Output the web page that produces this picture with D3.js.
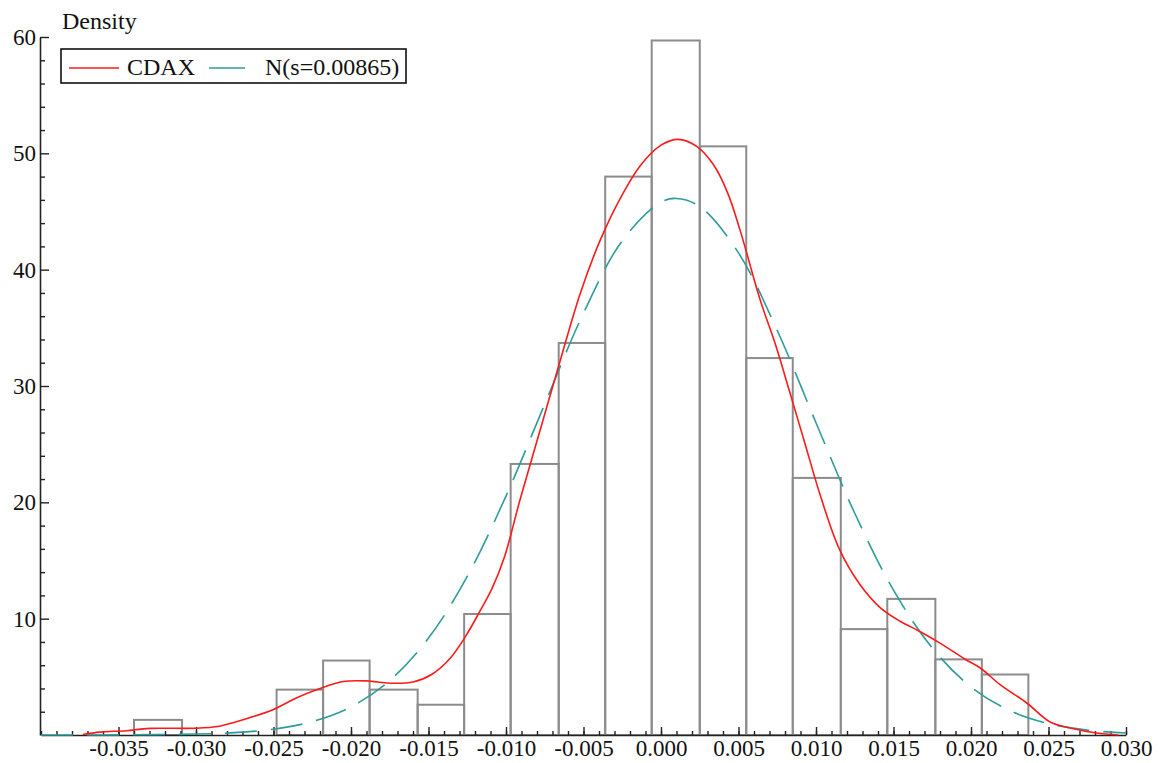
<!DOCTYPE html>
<html>
<head>
<meta charset="utf-8">
<script src="https://cdn.jsdelivr.net/npm/d3@7"></script>
<style>
  body { margin: 0; background: #fff; }
  text { font-family: "Liberation Serif", "Times New Roman", serif; }
</style>
</head>
<body>
<div id="chart"></div>
<script>
// histogram bins (edges) and densities
const binEdges = [-0.0340, -0.0309, -0.0279, -0.0248, -0.0218, -0.0188, -0.0157, -0.0127, -0.0097, -0.0066,
  -0.0036, -0.0006, 0.0025, 0.0055, 0.0085, 0.0116, 0.0146, 0.0177, 0.0207, 0.0237];
const binDensity = [1.3, 0, 0, 3.9, 6.4, 3.9, 2.6, 10.4, 23.3, 33.7, 48.0, 59.7, 50.6, 32.4, 22.1, 9.1, 11.7, 6.5, 5.2];

// kernel density of CDAX (red)
const cdaxX = [-0.0373, -0.0362, -0.0345, -0.0330, -0.0300, -0.0285, -0.0275, -0.0265, -0.0250, -0.0235, -0.0220,
  -0.0205, -0.0190, -0.0175, -0.0160, -0.0148, -0.0136, -0.0126, -0.0117, -0.0109, -0.0101, -0.0091, -0.0078,
  -0.0065, -0.0052, -0.0039, -0.0026, -0.0013, 0.0000, 0.0011, 0.0023, 0.0034, 0.0043, 0.0051, 0.0064, 0.0074,
  0.0083, 0.0093, 0.0103, 0.0115, 0.0128, 0.0141, 0.0154, 0.0167, 0.0180, 0.0197, 0.0206, 0.0219, 0.0236,
  0.0251, 0.0264, 0.0281, 0.0295];
const cdaxY = [0.05, 0.25, 0.37, 0.57, 0.58, 0.75, 1.1, 1.5, 2.2, 3.2, 4.0,
  4.6, 4.65, 4.45, 4.55, 5.2, 6.6, 8.5, 10.6, 12.6, 15.3, 20.2, 26.2,
  32.2, 38.0, 42.6, 46.2, 49.0, 50.7, 51.2, 50.6, 49.0, 46.6, 43.4, 37.4, 33.5,
  29.5, 25.0, 20.5, 16.0, 13.0, 11.0, 9.8, 8.9, 7.9, 6.45, 5.76, 4.3, 2.75,
  1.12, 0.6, 0.17, 0.0];

// normal reference N(s=0.00865) (teal, dashed)
const normX = [-0.0400, -0.0375, -0.0350, -0.0325, -0.0300, -0.0275, -0.0250, -0.0225, -0.0200, -0.0175, -0.0150,
  -0.0125, -0.0100, -0.0075, -0.0050, -0.0025, 0.0000, 0.0010, 0.0025, 0.0050, 0.0075, 0.0100, 0.0125, 0.0150,
  0.0175, 0.0200, 0.0225, 0.0250, 0.0275, 0.0300];
const normY = [0.0, 0.0, 0.01, 0.03, 0.08, 0.2, 0.5, 1.15, 2.42, 4.68, 8.33,
  13.64, 20.54, 28.45, 36.26, 42.49, 45.81, 46.12, 45.43, 41.44, 34.77, 26.84, 19.06, 12.45,
  7.48, 4.13, 2.1, 0.98, 0.42, 0.17];

const xTicks = [-0.035, -0.030, -0.025, -0.020, -0.015, -0.010, -0.005, 0.000, 0.005, 0.010, 0.015, 0.020, 0.025, 0.030];
const yTicks = [10, 20, 30, 40, 50, 60];
const legendLabels = ["CDAX", "N(s=0.00865)"];

const width = 1163, height = 763;
const red = "#ff1a1a", teal = "#2e9c98", barGray = "#8c8c8c";

const svg = d3.select("#chart").append("svg")
  .attr("width", width).attr("height", height);

const x = d3.scaleLinear().domain([-0.040, 0.030]).range([41, 1126]);
const y = d3.scaleLinear().domain([0, 60]).range([735, 37]);

// histogram
const bins = binDensity.map((d, i) => ({ x0: binEdges[i], x1: binEdges[i + 1], v: d })).filter(b => b.v > 0);
svg.append("g").selectAll("rect").data(bins).enter().append("rect")
  .attr("x", d => x(d.x0))
  .attr("y", d => y(d.v))
  .attr("width", d => x(d.x1) - x(d.x0))
  .attr("height", d => y(0) - y(d.v))
  .attr("fill", "none")
  .attr("stroke", barGray)
  .attr("stroke-width", 2);

// axes
svg.append("g").attr("transform", `translate(0,${y(0)})`)
  .call(d3.axisBottom(x).tickValues(xTicks).tickSizeInner(-8).tickSizeOuter(0).tickPadding(5)
    .tickFormat(d => d.toFixed(3)));
svg.append("g").attr("transform", `translate(0,${y(0)})`)
  .call(d3.axisBottom(x).ticks(70).tickSizeInner(-4).tickSizeOuter(0).tickFormat(""))
  .select(".domain").remove();

svg.append("g").attr("transform", `translate(${x(-0.040) - 1},0)`)
  .call(d3.axisLeft(y).tickValues(yTicks).tickSizeInner(-9).tickSizeOuter(0).tickPadding(4));
svg.append("g").attr("transform", `translate(${x(-0.040) - 1},0)`)
  .call(d3.axisLeft(y).tickValues(d3.range(2, 60, 2).filter(v => v % 10 !== 0)).tickSizeInner(-5).tickSizeOuter(0).tickFormat(""))
  .select(".domain").remove();

svg.selectAll(".domain").attr("stroke", "#222").attr("stroke-width", 1.6);
svg.selectAll(".tick line").attr("stroke", "#222").attr("stroke-width", 1.4);
svg.selectAll(".tick text").attr("fill", "#111").style("font-size", "23px")
  .style("font-family", "'Liberation Serif', serif");

// curves
const curveLine = d3.line().x(d => x(d[0])).y(d => y(d[1])).curve(d3.curveCatmullRom.alpha(0.5));
svg.append("path")
  .datum(normX.map((v, i) => [v, normY[i]]))
  .attr("fill", "none")
  .attr("stroke", teal)
  .attr("stroke-width", 1.6)
  .attr("stroke-dasharray", "32,14")
  .attr("d", curveLine);

svg.append("path")
  .datum(cdaxX.map((v, i) => [v, cdaxY[i]]))
  .attr("fill", "none")
  .attr("stroke", red)
  .attr("stroke-width", 1.6)
  .attr("d", curveLine);

// axis title
svg.append("text").attr("x", 62).attr("y", 29)
  .style("font-size", "24px").attr("fill", "#111").text("Density");

// legend
const legend = svg.append("g");
legend.append("rect").attr("x", 61).attr("y", 49).attr("width", 345).attr("height", 34)
  .attr("fill", "#fff").attr("stroke", "#111").attr("stroke-width", 1.6);
legend.append("line").attr("x1", 69).attr("x2", 119).attr("y1", 68).attr("y2", 68)
  .attr("stroke", red).attr("stroke-width", 1.6);
legend.append("text").attr("x", 127).attr("y", 75).style("font-size", "24px").attr("fill", "#111").text(legendLabels[0]);
legend.append("line").attr("x1", 209).attr("x2", 245).attr("y1", 68).attr("y2", 68)
  .attr("stroke", teal).attr("stroke-width", 1.6);
legend.append("text").attr("x", 265).attr("y", 75).style("font-size", "24px").attr("fill", "#111").text(legendLabels[1]);
</script>
</body>
</html>
